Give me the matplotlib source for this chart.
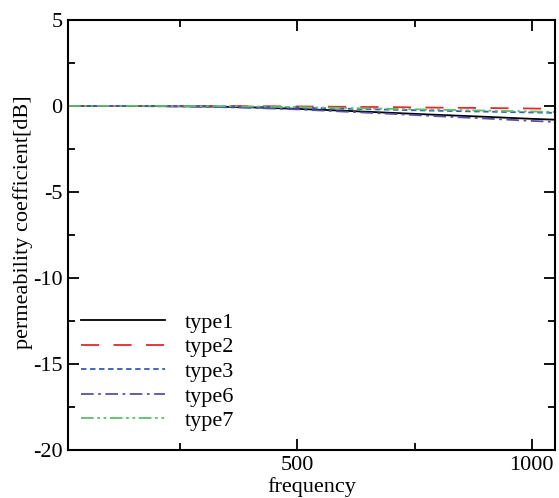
import matplotlib
matplotlib.use("Agg")
import matplotlib.pyplot as plt
from matplotlib.ticker import MultipleLocator

plt.rcParams["font.family"] = ["Liberation Serif", "DejaVu Serif"]
plt.rcParams["axes.unicode_minus"] = False

frequency = [10, 100, 200, 300, 400, 500, 600, 700, 800, 900, 1000, 1050]
type1 = [0.0, 0.0, -0.01, -0.03, -0.08, -0.17, -0.28, -0.40, -0.52, -0.63, -0.75, -0.80]
type2 = [0.0, 0.0, 0.0, 0.0, -0.01, -0.03, -0.05, -0.07, -0.10, -0.12, -0.15, -0.17]
type3 = [0.0, 0.0, -0.01, -0.02, -0.05, -0.10, -0.16, -0.22, -0.28, -0.33, -0.38, -0.40]
type6 = [0.0, 0.0, -0.02, -0.05, -0.11, -0.20, -0.33, -0.46, -0.60, -0.73, -0.87, -0.93]
type7 = [0.0, 0.0, 0.0, -0.01, -0.03, -0.07, -0.12, -0.17, -0.22, -0.27, -0.32, -0.35]

series = [
    ("type1", type1, "black", "-"),
    ("type2", type2, "#e8282a", (0, (10, 8))),
    ("type3", type3, "#2f5fb0", (0, (3, 2))),
    ("type6", type6, "#5a4fa8", (0, (7, 2.5, 1.5, 2.5))),
    ("type7", type7, "#5cbf6a", (0, (7, 2, 1.5, 2, 1.5, 2))),
]

fig = plt.figure(figsize=(5.59, 4.98), dpi=100)
ax = fig.add_axes([0.1216, 0.0964, 0.8714, 0.8636])

for name, values, color, style in series:
    ax.plot(frequency, values, color=color, linestyle=style, linewidth=1.3, label=name)

ax.set_xlim(10, 1050)
ax.set_ylim(-20, 5)
ax.xaxis.set_major_locator(MultipleLocator(500))
ax.xaxis.set_minor_locator(MultipleLocator(250))
ax.yaxis.set_major_locator(MultipleLocator(5))
ax.yaxis.set_minor_locator(MultipleLocator(2.5))
ax.tick_params(which="both", direction="in", top=True, right=True, width=1.3, labelsize=16)
ax.tick_params(which="major", length=8, pad=4)
ax.tick_params(which="minor", length=5)
for spine in ax.spines.values():
    spine.set_linewidth(1.5)

ax.set_xlabel("frequency", fontsize=16, labelpad=2)
ax.set_ylabel("permeability coefficient[dB]", fontsize=16)
ax.yaxis.set_label_coords(-0.072, 0.53)

ax.legend(loc="lower left", frameon=False, fontsize=16, handlelength=3.8,
          handletextpad=0.85, labelspacing=0.18, borderaxespad=0.45,
          bbox_to_anchor=(-0.012, 0.0))

fig.savefig("out.png", dpi=100)
